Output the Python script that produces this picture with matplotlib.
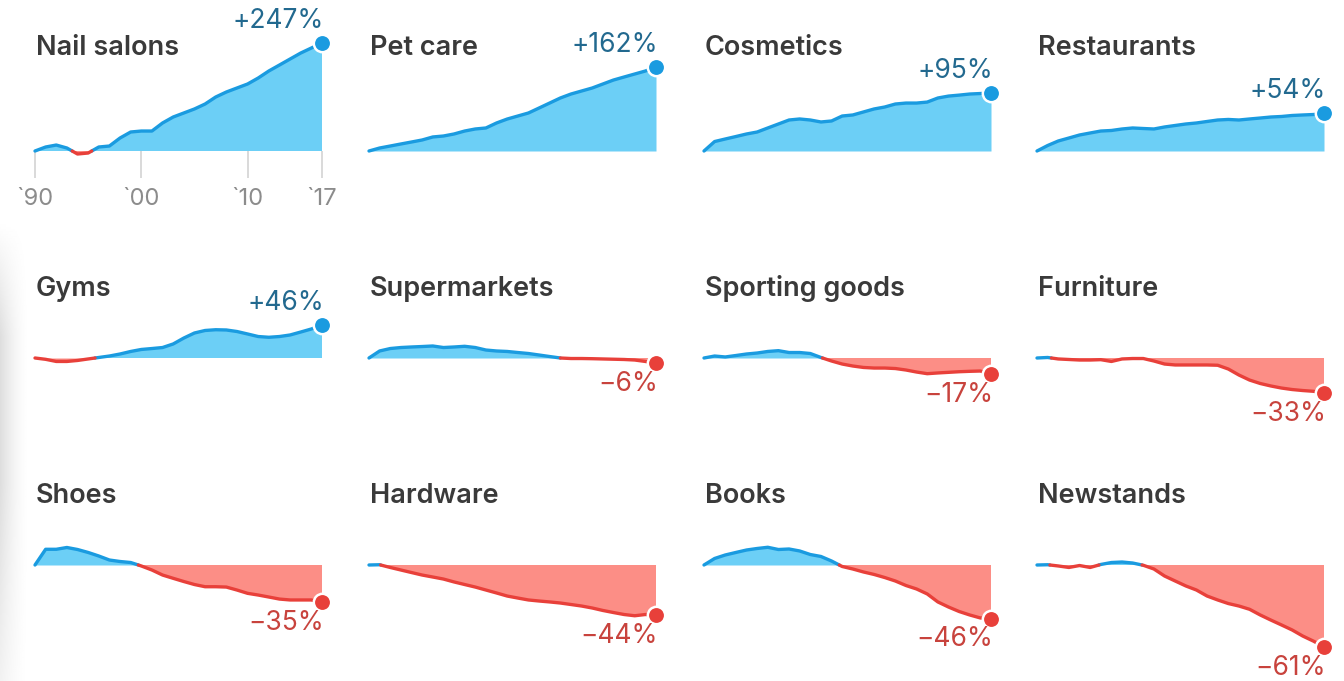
import numpy as np
import matplotlib
matplotlib.use("Agg")
import matplotlib.pyplot as plt

# ---------------- data (percent change since 1990) ----------------
years = list(range(1990, 2018))

categories = ["Nail salons", "Pet care", "Cosmetics", "Restaurants",
              "Gyms", "Supermarkets", "Sporting goods", "Furniture",
              "Shoes", "Hardware", "Books", "Newstands"]

nail_salons = [0, 4.7, 7.1, 3.5, -3.4, -2.3, 4.7, 5.9, 16.1, 24.4, 25.8, 25.8, 38.0, 47.8,
               54.8, 62.1, 71.6, 86.0, 97.0, 106.3, 116.0, 131.4, 150.9, 168.7, 187.9, 208.4, 226.7, 247]
pet_care = [0, 3.5, 5.9, 8.4, 10.9, 13.5, 17.5, 18.8, 21.6, 25.8, 28.8, 30.3, 38.0, 44.4,
            49.5, 54.8, 63.9, 73.6, 83.9, 92.5, 99.3, 106.3, 116.0, 126.1, 134.1, 142.3, 150.8, 162]
cosmetics = [0, 11.5, 14.8, 18.1, 21.6, 24.4, 30.3, 36.4, 42.8, 44.5, 42.8, 39.6, 41.2, 49.5,
             51.3, 56.6, 62.1, 65.8, 71.6, 73.5, 73.5, 75.5, 83.9, 88.0, 90.1, 92.5, 93.6, 95]
restaurants = [0, 6.5, 12.2, 16.1, 20.2, 23.0, 25.8, 26.6, 28.8, 30.3, 29.5, 28.8, 31.8, 34.1,
               36.4, 38.0, 40.4, 42.8, 43.7, 42.8, 44.5, 46.1, 47.8, 48.7, 50.4, 51.3, 52.1, 54]
gyms = [0, -1.5, -3.9, -3.9, -2.8, -1.1, 0.6, 2.3, 4.7, 7.8, 10.3, 11.5, 12.8, 17.5,
        25.8, 33.3, 37.2, 38.4, 38.0, 35.6, 31.8, 28.0, 26.9, 28.0, 30.3, 34.8, 39.6, 46]
supermarkets = [0, 8.4, 11.5, 12.8, 13.5, 14.1, 14.8, 12.8, 13.5, 14.4, 12.8, 9.6, 8.4, 7.8,
                6.5, 5.3, 3.5, 1.7, 0, -0.6, -0.6, -0.8, -1.1, -1.4, -1.7, -2.3, -3.9, -6]
sporting_goods = [0, 2.3, 1.2, 2.9, 4.7, 5.9, 7.8, 8.8, 6.5, 6.5, 5.3, 0.6, -3.4, -6.7,
                  -8.8, -10.3, -10.9, -10.9, -11.4, -12.9, -14.9, -16.5, -15.8, -15.2, -14.6, -14.2, -13.9, -17]
furniture = [0, 0.6, -1.1, -1.7, -2.3, -2.3, -1.9, -3.9, -1.1, -0.6, -0.6, -3.4, -6.7, -7.7,
             -7.7, -7.7, -7.7, -8.0, -11.9, -17.8, -22.4, -25.4, -27.5, -29.2, -30.4, -31.2, -31.8, -33]
shoes = [0, 19.8, 19.8, 22.3, 19.5, 15.5, 10.9, 5.9, 4.1, 2.9, -1.1, -5.6, -10.9, -14.2,
         -17.3, -20.1, -22.1, -22.1, -22.4, -25.0, -27.8, -29.2, -30.8, -32.4, -33.1, -33.1, -33.1, -35]
hardware = [0, 0.3, -2.8, -5.6, -8.3, -10.9, -12.9, -14.9, -17.7, -20.1, -22.4, -25.0, -27.5, -30.0,
            -31.6, -33.1, -33.9, -34.6, -35.4, -36.5, -37.6, -39.0, -40.7, -42.1, -43.4, -44.2, -43.4, -44]
books = [0, 7.8, 12.2, 15.5, 18.8, 20.9, 22.6, 19.5, 20.2, 17.5, 12.8, 10.3, 4.7, -1.7,
         -4.5, -7.7, -10.3, -13.4, -16.8, -21.0, -24.1, -28.3, -34.6, -38.3, -41.4, -43.7, -45.6, -46]
newstands = [0, 0.3, -1.1, -2.8, -0.6, -2.8, 0.6, 2.9, 3.5, 2.3, -0.3, -4.5, -11.9, -16.8,
             -21.4, -25.0, -30.0, -33.1, -35.8, -37.6, -39.9, -43.7, -46.9, -49.8, -52.6, -55.8, -58.3, -61]

series = [nail_salons, pet_care, cosmetics, restaurants,
          gyms, supermarkets, sporting_goods, furniture,
          shoes, hardware, books, newstands]

tick_years = [1990, 2000, 2010, 2017]
tick_labels = ["`90", "`00", "`10", "`17"]

# ---------------- style ----------------
BLUE_LINE = "#1a9be0"
BLUE_FILL = "#6ccff6"
RED_LINE = "#e8403a"
RED_FILL = "#fc8e86"
POS_TEXT = "#22698f"
NEG_TEXT = "#c8433d"
TITLE_C = "#3a3a3a"
FONT = ["Inter", "DejaVu Sans"]

W, H = 1344, 681
PX_PER_LN = 87.0          # pixels per natural-log unit of the index
col_left = [35, 369, 704, 1037]
panel_w = 287
row_base = [151, 358, 565]
title_y = [48, 289, 496]
UP = 125

fig = plt.figure(figsize=(W / 100, H / 100), dpi=100)
fig.patch.set_facecolor("white")

# soft grey edge on the left (background of the original picture)
bg = fig.add_axes([0, 0, 30 / W, 460 / H], zorder=-5)
gx = np.linspace(0, 1, 60)
gy = np.linspace(0, 1, 200)
GX, GY = np.meshgrid(gx, gy)
shade = (1 - GX) ** 1.6 * np.clip(GY * 4, 0, 1) * np.clip((1 - GY) * 1.4 + 0.4, 0, 1)
bg.imshow(1 - 0.13 * shade, cmap="gray", vmin=0, vmax=1, aspect="auto",
          origin="upper", extent=(0, 1, 0, 1))
bg.axis("off")


def split_by_sign(x, ratio):
    L = np.log(ratio)
    xs, ls = [x[0]], [L[0]]
    for i in range(1, len(x)):
        a, b = L[i - 1], L[i]
        if a * b < 0:
            t = a / (a - b)
            xs.append(x[i - 1] + t * (x[i] - x[i - 1]))
            ls.append(0.0)
        xs.append(x[i])
        ls.append(b)
    xs = np.array(xs, dtype=float)
    ls = np.array(ls)
    pos = np.where(ls >= 0, np.exp(ls), np.nan)
    neg = np.where(ls <= 0, np.exp(ls), np.nan)
    return xs, pos, neg


for k, (name, vals) in enumerate(zip(categories, series)):
    r, c = divmod(k, 4)
    down = 0 if r == 0 else 100
    base = row_base[r]
    left = col_left[c]
    ax = fig.add_axes([left / W, 1 - (base + down) / H, panel_w / W, (UP + down) / H])
    ax.set_yscale("log")
    ax.set_xlim(years[0], years[-1])
    ax.set_ylim(np.exp(-down / PX_PER_LN), np.exp(UP / PX_PER_LN))
    ax.patch.set_alpha(0)
    for s in ax.spines.values():
        s.set_visible(False)
    ax.minorticks_off()
    ax.set_yticks([])

    ratio = 1 + np.array(vals) / 100.0
    xs, pos, neg = split_by_sign(np.array(years, dtype=float), ratio)

    ax.fill_between(xs, 1, pos, color=BLUE_FILL, lw=0, zorder=1, clip_on=False)
    ax.fill_between(xs, 1, neg, color=RED_FILL, lw=0, zorder=1, clip_on=False)
    ax.plot(xs, pos, color=BLUE_LINE, lw=2.4, solid_capstyle="round",
            solid_joinstyle="round", zorder=3, clip_on=False)
    ax.plot(xs, neg, color=RED_LINE, lw=2.4, solid_capstyle="round",
            solid_joinstyle="round", zorder=3, clip_on=False)

    last = vals[-1]
    up = last >= 0
    ax.plot([years[-1]], [ratio[-1]], "o", ms=12.5, mfc=BLUE_LINE if up else RED_LINE,
            mec="white", mew=1.8, zorder=5, clip_on=False)
    label = f"+{last:.0f}%" if up else f"\u2212{abs(last):.0f}%"
    ax.annotate(label, xy=(years[-1], ratio[-1]), xycoords="data",
                xytext=(1.5, 16 if up else -15), textcoords="offset points",
                ha="right", va="center", fontsize=19, family=FONT,
                color=POS_TEXT if up else NEG_TEXT, zorder=6)

    fig.text((left + 1) / W, 1 - title_y[r] / H, name, ha="left", va="center",
             fontsize=19.5, family=FONT, weight="semibold", color=TITLE_C)

    if k == 0:
        ax.set_xticks(tick_years)
        ax.set_xticklabels(tick_labels, family=FONT, fontsize=17, color="#8c8c8c")
        ax.tick_params(axis="x", length=19.5, width=1.1, color="#d0d0d0", pad=7, direction="out")
    else:
        ax.set_xticks([])

fig.savefig("out.png", dpi=100, facecolor="white")
